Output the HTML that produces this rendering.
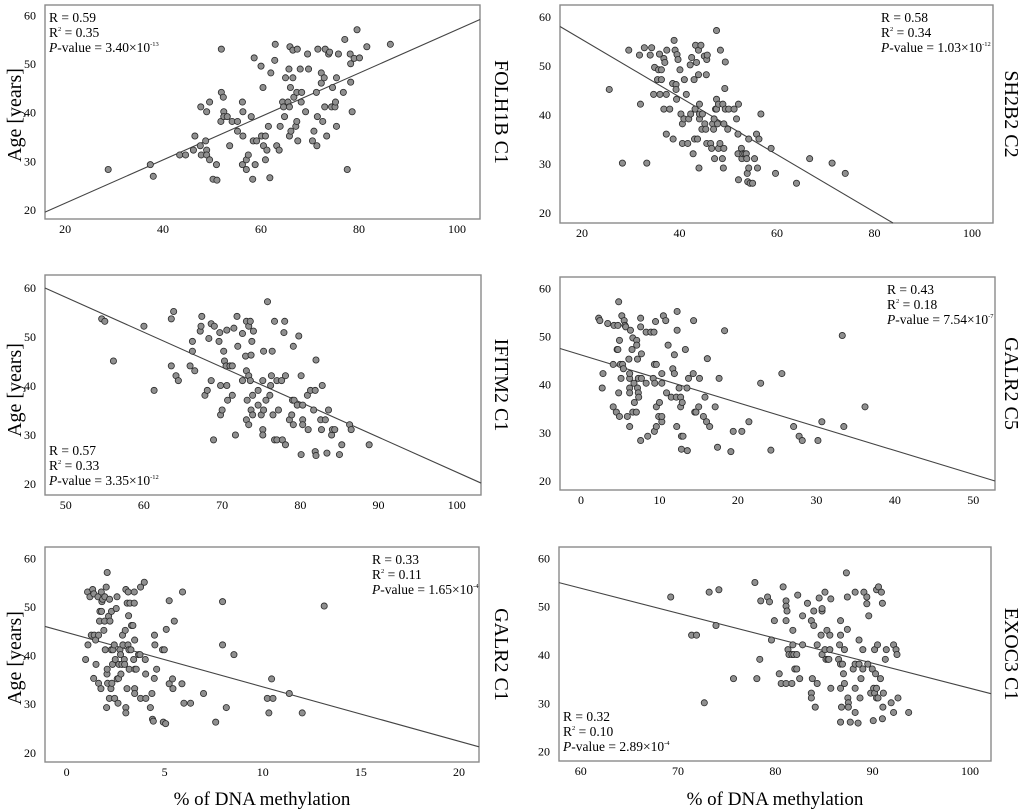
<!DOCTYPE html>
<html><head><meta charset="utf-8"><style>
body{margin:0;background:#fff;}
svg{display:block;font-family:"Liberation Serif",serif;}
</style></head><body>
<svg id="fig" width="1020" height="811" viewBox="0 0 1020 811">
<text x="21" y="115" font-size="20" transform="rotate(-90 21 115)" text-anchor="middle">Age [years]</text>
<text x="21" y="390" font-size="20" transform="rotate(-90 21 390)" text-anchor="middle">Age [years]</text>
<text x="21" y="658" font-size="20" transform="rotate(-90 21 658)" text-anchor="middle">Age [years]</text>
<text x="262" y="805" font-size="19" text-anchor="middle">% of DNA methylation</text>
<text x="775" y="805" font-size="19" text-anchor="middle">% of DNA methylation</text>
</svg>
<script>
const p1X=[28.8,37.4,38.0,43.4,44.6,46.2,46.5,47.6,47.7,47.8,48.7,48.9,48.9,48.9,49.5,49.5,50.2,51.0,50.9,51.9,51.9,51.8,52.3,52.4,52.4,53.1,53.6,54.1,55.2,55.2,56.2,56.3,56.3,56.2,57.0,57.0,57.4,58.0,58.4,58.3,58.6,58.8,59.1,60.0,60.1,60.4,60.5,60.9,60.9,61.2,61.5,61.8,62.0,62.8,62.9,63.2,63.7,63.9,64.4,64.6,64.8,65.0,65.5,65.8,65.7,65.8,65.9,66.0,66.1,66.5,66.5,66.7,67.1,67.3,67.3,67.4,67.5,68.0,68.2,68.3,69.1,69.5,69.7,70.5,70.8,71.4,71.3,71.5,71.6,72.3,72.3,72.6,72.9,73.1,73.0,73.4,73.8,74.0,74.4,74.6,75.1,75.2,75.4,75.4,75.8,76.8,77.1,77.6,78.2,78.3,78.3,78.6,79.0,79.6,80.1,81.6,86.4];
const p1Y=[28.3,29.3,26.9,31.3,31.3,32.3,35.2,33.2,41.2,31.3,34.2,40.2,32.3,31.3,42.2,30.3,26.3,26.1,29.3,53.1,44.2,38.2,43.2,40.2,39.2,39.2,33.2,38.2,38.2,36.2,42.2,40.2,35.2,29.3,30.3,28.3,31.3,39.2,34.2,26.3,51.3,29.3,34.2,49.6,35.2,45.2,33.2,35.2,30.3,32.3,37.2,26.6,48.2,50.8,54.1,33.2,32.3,37.2,42.2,41.2,39.2,47.2,42.2,35.2,49.0,41.2,53.6,45.2,36.2,47.2,52.9,43.2,37.2,38.2,44.2,53.1,34.2,49.0,42.2,44.2,40.2,52.1,49.0,34.2,36.2,33.2,44.2,39.2,53.1,48.2,46.1,38.2,47.2,53.1,41.2,35.2,52.1,52.5,41.2,45.2,41.2,42.2,37.2,47.2,52.1,44.2,55.1,28.3,52.1,50.1,46.3,40.2,51.2,57.1,51.3,53.6,54.1];
const p2X=[25.6,28.3,29.6,31.8,32.0,32.8,33.3,34.0,34.3,34.7,34.9,35.5,35.7,35.9,36.0,36.3,36.3,36.8,36.8,37.0,37.3,37.4,37.3,38.0,38.7,38.9,38.6,39.1,39.3,39.4,39.3,39.5,39.7,40.1,40.3,40.6,40.6,40.9,41.0,41.4,41.7,41.9,42.2,42.3,42.5,42.8,43.0,43.1,43.2,43.3,43.5,43.7,43.9,43.9,44.0,44.1,44.1,44.1,44.4,44.6,44.7,45.1,45.2,45.4,45.5,45.6,45.7,45.6,46.4,46.6,46.8,47.0,47.1,47.2,47.4,47.6,47.6,47.6,47.8,48.0,48.0,48.3,48.4,48.8,48.9,49.0,49.1,49.1,49.3,49.4,49.4,49.9,50.1,51.2,51.7,52.0,52.0,52.1,52.1,52.7,52.8,53.0,53.4,53.7,53.8,53.9,54.0,54.2,54.2,54.5,55.0,55.4,55.8,56.0,56.3,56.7,58.8,59.7,64.0,66.7,71.3,74.0];
const p2Y=[45.2,30.2,53.2,52.2,42.2,53.7,30.2,52.2,53.7,44.2,49.7,47.2,49.2,52.4,44.2,47.2,49.2,41.2,51.5,50.7,36.1,53.2,44.2,41.2,35.1,55.2,46.4,53.2,46.2,43.2,45.2,52.3,51.3,49.2,40.2,34.2,38.2,39.2,47.2,44.2,34.2,39.2,50.2,40.2,51.7,32.1,47.2,35.1,41.2,54.2,50.7,35.1,53.2,48.2,29.2,39.2,42.2,40.2,54.2,37.1,40.2,52.0,38.2,37.1,48.2,51.3,52.2,34.2,34.2,33.2,38.2,37.1,39.2,31.1,41.2,43.2,57.2,41.2,38.2,42.2,33.2,34.2,53.2,31.1,42.2,29.2,38.2,33.2,45.4,50.8,41.2,37.1,41.2,41.2,39.2,36.1,32.1,26.8,42.2,33.2,31.1,32.1,32.1,32.1,31.1,28.1,26.4,29.2,35.1,26.1,26.1,31.1,36.1,29.2,35.1,40.2,33.2,28.1,26.1,31.1,30.2,28.1];
const p3X=[54.6,55.0,56.1,60.0,61.3,63.5,63.5,63.8,64.1,64.4,65.9,66.2,66.2,66.5,67.2,67.3,67.4,67.8,68.1,68.3,68.6,68.6,68.9,69.0,69.6,69.7,69.8,69.8,70.0,70.2,70.3,70.5,70.6,70.6,70.7,71.0,71.3,71.3,71.5,71.7,71.9,72.0,72.6,72.6,73.0,73.1,73.1,73.1,73.2,73.4,73.4,73.4,73.6,73.6,73.7,73.7,73.8,73.9,73.9,74.0,74.6,74.6,75.0,75.2,75.2,75.2,75.3,75.3,75.6,75.8,76.1,76.2,76.3,76.4,76.5,76.7,76.7,77.0,77.0,77.2,77.6,77.7,77.9,78.0,78.1,78.1,78.6,78.9,79.0,79.1,79.1,79.2,79.6,79.8,80.1,80.1,80.3,80.3,80.3,80.9,81.0,81.3,81.7,81.9,81.9,82.0,82.0,82.6,82.7,82.8,83.2,83.4,83.6,84.0,84.1,84.4,85.0,85.3,86.3,86.5,88.8];
const p3Y=[53.7,53.2,45.1,52.2,39.1,44.1,53.7,55.2,42.1,41.1,44.1,47.1,49.1,43.1,51.2,52.2,54.2,38.1,39.1,49.7,41.1,52.7,29.0,52.2,49.1,50.9,40.1,34.1,35.1,47.1,45.1,44.1,40.1,51.4,37.1,44.1,38.1,44.1,51.8,30.0,54.2,48.1,41.1,50.7,46.1,43.1,33.1,53.2,37.1,52.2,42.1,32.1,41.1,53.2,35.1,46.3,49.1,34.1,38.1,51.2,39.1,36.1,34.1,41.1,31.1,30.0,35.1,47.1,37.1,57.2,38.1,40.1,42.1,47.1,34.1,53.2,29.0,41.1,29.0,35.1,41.1,29.0,50.9,53.2,28.0,42.1,33.1,34.1,37.1,32.1,48.1,37.1,36.1,50.2,42.1,26.0,33.1,36.1,32.1,38.1,31.1,39.1,35.1,39.1,26.6,25.8,45.3,33.1,31.1,40.1,33.1,26.3,35.1,30.0,31.1,31.1,26.0,28.0,32.1,31.1,28.0];
const p4X=[2.25,2.4,2.8,2.7,3.4,4.1,4.1,4.2,4.5,4.6,4.7,4.7,4.8,4.8,4.9,4.9,5.0,5.1,5.2,5.3,5.4,5.5,5.6,5.7,5.9,6.1,6.2,6.2,6.2,6.2,6.2,6.3,6.5,6.6,6.6,6.75,6.8,7.05,7.1,7.1,7.2,7.2,7.3,7.3,7.35,7.6,7.6,7.6,7.7,7.7,8.3,8.3,8.5,8.9,9.2,9.3,9.35,9.35,9.4,9.5,9.6,9.6,9.6,9.9,10.0,10.3,10.3,10.3,10.3,10.5,10.8,10.9,11.1,11.5,11.7,11.9,11.9,12.15,12.2,12.25,12.25,12.5,12.7,12.7,12.8,12.9,13.0,12.8,13.3,13.5,13.55,13.7,14.3,14.35,14.5,14.65,15.0,15.1,15.6,15.8,16.0,16.1,16.4,17.1,17.4,17.6,18.3,19.1,19.4,20.5,21.4,22.9,24.2,25.6,27.1,27.8,28.2,30.2,30.7,33.3,33.5,36.2];
const p4Y=[53.8,53.3,42.3,39.3,52.7,35.4,44.2,52.3,34.3,47.3,47.3,52.3,38.3,57.2,33.4,49.2,44.2,41.3,54.3,44.2,43.3,53.3,52.3,52.0,33.4,45.3,39.3,41.3,38.3,42.3,31.3,51.3,47.3,34.3,49.7,40.3,36.3,34.3,49.2,48.2,39.3,45.3,41.3,38.3,37.4,28.4,53.8,52.0,46.4,41.3,40.3,50.9,29.3,50.9,41.3,50.9,44.2,30.3,40.3,53.1,35.4,44.2,31.3,33.4,36.3,42.3,40.3,32.3,33.4,54.3,53.3,38.3,48.2,37.4,43.3,46.2,42.3,37.4,31.3,55.2,51.3,39.3,37.4,35.4,29.3,36.3,29.3,26.6,47.3,39.3,26.3,41.3,42.3,53.3,34.3,34.3,35.4,41.3,33.4,37.4,32.3,45.4,31.3,35.4,27.0,41.3,51.2,26.1,30.3,30.3,32.3,40.3,26.4,42.3,31.3,29.3,28.4,28.4,32.3,50.2,31.3,35.4];
const p5X=[0.97,1.07,1.09,1.19,1.26,1.33,1.38,1.39,1.41,1.5,1.48,1.6,1.63,1.63,1.68,1.7,1.75,1.77,1.78,1.8,1.84,1.9,1.94,1.95,1.97,2.02,2.04,2.06,2.07,2.07,2.09,2.14,2.18,2.19,2.21,2.26,2.28,2.29,2.31,2.34,2.36,2.43,2.45,2.48,2.53,2.57,2.58,2.62,2.65,2.67,2.72,2.75,2.77,2.82,2.85,2.87,2.94,2.96,2.99,3.02,3.02,3.02,3.08,3.09,3.13,3.14,3.16,3.18,3.19,3.23,3.28,3.31,3.38,3.42,3.45,3.45,3.47,3.47,3.47,3.48,3.55,3.67,3.74,3.77,3.77,3.96,4.01,4.03,4.04,4.27,4.35,4.38,4.42,4.47,4.48,4.5,4.59,4.89,4.93,4.98,5.05,5.08,5.23,5.23,5.4,5.42,5.49,5.88,5.91,5.98,6.32,6.98,7.6,7.95,7.95,8.14,8.53,10.23,10.31,10.45,10.52,11.35,12.01,13.13];
const p5Y=[39.2,53.1,42.2,52.1,44.2,53.6,35.3,52.7,44.2,38.2,43.2,52.1,44.2,34.3,47.1,49.1,33.2,53.1,49.1,51.1,51.6,45.2,47.1,52.1,41.2,54.1,29.3,36.2,57.1,37.2,34.3,48.1,31.2,51.6,47.1,33.2,41.2,49.1,34.3,38.2,41.2,42.2,31.2,39.2,49.7,52.1,35.2,30.2,35.3,38.2,41.2,40.2,36.2,38.2,44.2,42.2,39.2,38.2,45.2,29.3,28.2,53.6,33.2,50.8,42.2,53.1,48.2,41.2,37.2,50.8,41.2,46.2,46.2,39.2,53.1,50.8,43.2,33.2,32.2,37.2,37.2,40.2,40.2,31.2,54.1,55.1,39.2,36.2,31.2,29.3,32.2,26.9,26.5,35.3,44.2,42.2,37.2,41.2,26.3,41.2,26.0,45.4,34.2,51.3,35.2,33.2,47.1,34.2,53.1,30.2,30.2,32.2,26.3,51.1,42.2,29.3,40.2,31.2,28.2,35.2,31.2,32.2,28.2,50.2];
const p6X=[69.25,71.4,71.9,72.7,73.2,73.9,74.2,75.7,77.9,78.1,78.4,78.5,79.2,79.4,79.6,79.9,80.4,80.6,80.8,81.1,81.1,81.1,81.1,81.2,81.3,81.4,81.7,81.7,81.8,81.8,81.9,82.0,82.2,82.2,82.3,82.5,82.8,82.8,83.3,83.7,83.7,83.7,83.8,83.95,83.95,84.1,84.3,84.3,84.5,84.7,84.8,84.8,84.8,85.1,85.1,85.2,85.3,85.4,85.5,85.6,85.6,85.7,85.7,86.5,86.6,86.7,86.7,86.7,86.7,86.7,86.8,86.9,87.0,87.1,87.1,87.3,87.4,87.4,87.45,87.5,87.5,87.7,88.0,88.2,88.2,88.2,88.2,88.5,88.6,88.6,88.7,88.8,88.99,88.99,89.1,89.4,89.4,89.5,89.6,89.8,89.96,90.06,90.1,90.2,90.2,90.3,90.4,90.4,90.4,90.5,90.55,90.6,90.8,90.9,91.0,91.0,91.05,91.1,91.3,91.4,91.9,92.15,92.15,92.4,92.6,92.5,93.7];
const p6Y=[52.0,44.1,44.1,30.1,53.0,46.1,53.5,35.1,55.0,35.1,39.1,51.2,52.0,51.0,43.1,47.1,36.1,34.1,54.1,47.1,51.2,50.1,34.1,49.1,41.1,40.1,40.1,34.1,45.1,42.1,40.1,37.1,37.1,40.1,52.4,35.1,48.1,42.1,50.7,47.1,32.1,31.1,35.1,49.1,46.1,29.2,34.1,42.1,51.8,44.1,49.1,49.6,40.1,41.1,53.0,39.1,45.1,39.1,39.1,41.1,44.1,51.6,33.1,39.1,42.1,47.1,44.1,38.1,33.1,26.1,29.2,38.1,36.1,41.1,34.1,57.0,52.0,45.3,31.1,30.1,29.2,26.1,37.1,53.0,33.1,38.1,28.1,25.9,38.1,43.1,31.1,35.1,41.1,37.1,53.0,52.0,50.6,38.1,48.1,32.1,37.1,26.4,33.1,32.1,41.1,36.1,31.1,53.5,33.1,42.1,31.1,54.1,35.1,53.0,50.7,26.8,29.2,32.1,39.1,41.1,30.1,42.1,28.1,41.1,31.1,40.1,28.1];
const geneLabels=["FOLH1B C1","SH2B2 C2","IFITM2 C1","GALR2 C5","GALR2 C1","EXOC3 C1"];
const rValues=["0.59","0.58","0.57","0.43","0.33","0.32"];
const r2Values=["0.35","0.34","0.33","0.18","0.11","0.10"];
const pMantissa=["3.40","1.03","3.35","7.54","1.65","2.89"];
const pExponent=["-13","-12","-12","-7","-4","-4"];
const fitIntercepts=[12.4,67.1,93.8,46.17,44.77,84.9];
const fitSlopes=[0.447,-0.586,-0.714,-0.496,-1.12,-0.518];
const xTicks=[[20,40,60,80,100],[20,40,60,80,100],[50,60,70,80,90,100],[0,10,20,30,40,50],[0,5,10,15,20],[60,70,80,90,100]];
const yTicks=[20,30,40,50,60];

const NS="http://www.w3.org/2000/svg";
const svg=document.getElementById('fig');
const panels=[
 {L:45,R:480,T:5,B:219,x0:15.9,x1:104.7,y0:18.1,y1:62.2,xs:p1X,ys:p1Y,lab:495,stat:'tl'},
 {L:560,R:993,T:5,B:223,x0:15.5,x1:104.3,y0:18.0,y1:62.4,xs:p2X,ys:p2Y,lab:1005,stat:'tr',sx:881},
 {L:45,R:481,T:275,B:495,x0:47.35,x1:103.1,y0:17.75,y1:62.65,xs:p3X,ys:p3Y,lab:495,stat:'bl'},
 {L:560,R:995,T:277,B:490,x0:-2.68,x1:52.77,y0:18.13,y1:62.35,xs:p4X,ys:p4Y,lab:1005,stat:'tr',sx:887},
 {L:45,R:479,T:547,B:762,x0:-1.1,x1:21.02,y0:18.1,y1:62.35,xs:p5X,ys:p5Y,lab:495,stat:'tr',sx:372},
 {L:559,R:991,T:547,B:761,x0:57.77,x1:102.16,y0:18.05,y1:62.35,xs:p6X,ys:p6Y,lab:1005,stat:'bl'}
];
function mk(tag,attrs,parent){const e=document.createElementNS(NS,tag);for(const k in attrs)e.setAttribute(k,attrs[k]);(parent||svg).appendChild(e);return e;}
panels.forEach((p,i)=>{
 const sx=v=>p.L+(v-p.x0)/(p.x1-p.x0)*(p.R-p.L);
 const sy=v=>p.B-(v-p.y0)/(p.y1-p.y0)*(p.B-p.T);
 const g=mk('g',{});
 
 
 const box=mk('rect',{x:p.L,y:p.T,width:p.R-p.L,height:p.B-p.T,fill:'#fff',stroke:'#8a8a8a','stroke-width':1.4},g);
 
 
 yTicks.forEach(t=>{const tx=mk('text',{x:p.L-9,y:sy(t)+4,'font-size':12,'text-anchor':'end'},g);tx.textContent=t;
  
  });
 xTicks[i].forEach(t=>{const tx=mk('text',{x:sx(t),y:p.B+14,'font-size':12,'text-anchor':'middle'},g);tx.textContent=t;
  
  });
 let xa=p.x0,xb=p.x1;
 const f=x=>fitIntercepts[i]+fitSlopes[i]*x;
 const inv=y=>(y-fitIntercepts[i])/fitSlopes[i];
 [p.y0,p.y1].forEach(yl=>{const xc=inv(yl);if(fitSlopes[i]<0){if(yl===p.y0&&xc<xb)xb=xc;if(yl===p.y1&&xc>xa)xa=xc;}else{if(yl===p.y1&&xc<xb)xb=xc;if(yl===p.y0&&xc>xa)xa=xc;}});
 const ln=mk('line',{x1:sx(xa),y1:sy(f(xa)),x2:sx(xb),y2:sy(f(xb)),stroke:'#444','stroke-width':1.1},g);
 
 
 p.xs.forEach((x,k)=>{const c=mk('circle',{cx:sx(x),cy:sy(p.ys[k]),r:3.1,fill:'#8f8f8f',stroke:'#2a2a2a','stroke-width':0.8},g);
  
  });
 let x0s,yb;
 if(p.stat==='tl'){x0s=p.L+4;yb=p.T+17;}
 else if(p.stat==='tr'){x0s=p.sx;yb=p.T+17;}
 else {x0s=p.L+4;yb=p.B-40;}
 const t1=mk('text',{x:x0s,y:yb,'font-size':13.5},g);t1.textContent='R = '+rValues[i];
 
 
 const t2=mk('text',{x:x0s,y:yb+15,'font-size':13.5},g);
 t2.innerHTML='R<tspan font-size="6.5" dy="-6">2</tspan><tspan dy="6"> = '+r2Values[i]+'</tspan>';
 
 
 const t3=mk('text',{x:x0s,y:yb+30,'font-size':13.5},g);
 t3.innerHTML='<tspan font-style="italic">P</tspan>-value = '+pMantissa[i]+'×10<tspan font-size="6.5" dy="-6">'+pExponent[i]+'</tspan>';
 
 
 const cy=(p.T+p.B)/2;
 const lb=mk('text',{x:p.lab,y:cy,'font-size':20,'text-anchor':'middle',transform:'rotate(90 '+p.lab+' '+cy+')'},g);
 lb.textContent=geneLabels[i];
 
 
});
</script>
</body></html>
